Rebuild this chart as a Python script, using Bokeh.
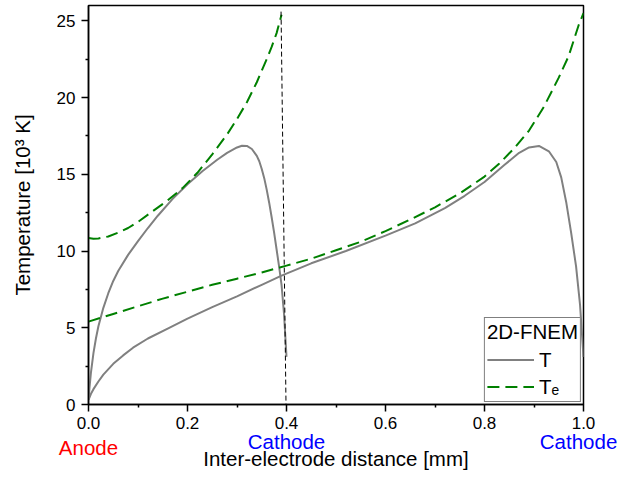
from bokeh.plotting import figure
from bokeh.models import (Range1d, FixedTicker, PrintfTickFormatter, Legend, LegendItem,
                          LinearAxis)
from bokeh.embed import file_html
from bokeh.resources import INLINE

# Data: 0.4 mm gap
x_04_T = [0, 0.002, 0.005, 0.01, 0.015, 0.02, 0.03, 0.04, 0.05, 0.06, 0.08, 0.10, 0.12, 0.14,
          0.17, 0.20, 0.23, 0.26, 0.28, 0.30, 0.31, 0.32, 0.33, 0.34, 0.345, 0.35, 0.355, 0.36,
          0.365, 0.37, 0.375, 0.38, 0.385, 0.39, 0.395, 0.40]
T_04 = [0.3, 1.1, 2.1, 3.35, 4.3, 5.1, 6.3, 7.25, 8.05, 8.7, 9.75, 10.65, 11.5, 12.3,
        13.4, 14.35, 15.2, 15.95, 16.4, 16.75, 16.86, 16.85, 16.65, 16.2, 15.85, 15.35, 14.75, 14.0,
        13.15, 12.2, 11.2, 10.1, 9.0, 7.8, 5.9, 3.1]
x_04_Te = [0, 0.01, 0.02, 0.04, 0.06, 0.08, 0.10, 0.13, 0.16, 0.19, 0.22, 0.25, 0.28, 0.30,
           0.32, 0.34, 0.36, 0.37, 0.38, 0.39]
Te_04 = [10.85, 10.8, 10.82, 10.95, 11.2, 11.5, 11.9, 12.6, 13.3, 14.1, 15.1, 16.3, 17.6, 18.6,
         19.7, 21.0, 22.5, 23.3, 24.2, 25.4]

# Data: 1.0 mm gap
x_10_T = [0, 0.005, 0.01, 0.02, 0.03, 0.05, 0.07, 0.09, 0.12, 0.16, 0.20, 0.25, 0.30, 0.35, 0.39,
          0.45, 0.52, 0.60, 0.66, 0.72, 0.76, 0.80, 0.84, 0.87, 0.89, 0.91, 0.93, 0.945, 0.955,
          0.965, 0.975, 0.985, 0.993, 1.0]
T_10 = [0.3, 0.7, 1.0, 1.5, 1.95, 2.65, 3.2, 3.7, 4.3, 4.95, 5.6, 6.35, 7.05, 7.8, 8.4,
        9.2, 10.0, 11.0, 11.8, 12.8, 13.6, 14.5, 15.6, 16.4, 16.75, 16.85, 16.5, 15.8, 14.8,
        13.2, 11.2, 9.0, 6.5, 3.1]
x_10_Te = [0, 0.05, 0.10, 0.15, 0.20, 0.25, 0.30, 0.35, 0.40, 0.45, 0.50, 0.55, 0.60, 0.65,
           0.70, 0.75, 0.80, 0.83, 0.86, 0.89, 0.92, 0.95, 0.97, 0.99, 1.0]
Te_10 = [5.4, 5.9, 6.4, 6.9, 7.35, 7.8, 8.2, 8.6, 9.05, 9.5, 10.05, 10.6, 11.3, 12.05,
         12.85, 13.75, 14.85, 15.7, 16.7, 17.85, 19.4, 21.3, 22.7, 24.7, 25.5]

# Cathode marker line for the 0.4 mm gap
x_cath = [0.389, 0.399]
y_cath = [25.6, 0]

x_ticks = [0, 0.2, 0.4, 0.6, 0.8, 1.0]
x_minor = [0.1, 0.3, 0.5, 0.7, 0.9]
y_ticks = [0, 5, 10, 15, 20, 25]
y_minor = [2.5, 7.5, 12.5, 17.5, 22.5]

anode_pos = [0.0]
anode_text = ["Anode"]
cathode_pos = [0.4, 0.99]
cathode_text = ["Cathode", "Cathode"]

FONT = "Liberation Sans"
BIG = "20.5px"

p = figure(width=617, height=473, output_backend="svg", toolbar_location=None,
           x_range=Range1d(0, 1), y_range=Range1d(0, 26),
           min_border_left=88, min_border_right=34, min_border_top=5, min_border_bottom=69)
p.background_fill_color = "white"
p.border_fill_color = "white"
p.xgrid.visible = False
p.ygrid.visible = False
p.outline_line_color = "black"
p.outline_line_width = 1.5
p.outline_line_alpha = 1.0

for ax in (p.xaxis[0], p.yaxis[0]):
    ax.axis_line_color = "black"
    ax.axis_line_width = 1.5
    ax.major_tick_line_color = "black"
    ax.major_tick_line_width = 1.5
    ax.minor_tick_line_color = "black"
    ax.minor_tick_line_width = 1.5
    ax.major_tick_out = 7
    ax.major_tick_in = 0
    ax.minor_tick_out = 3
    ax.minor_tick_in = 0
    ax.major_label_text_font = FONT
    ax.major_label_text_font_size = "17px"
    ax.major_label_text_color = "black"
    ax.axis_label_text_font = FONT
    ax.axis_label_text_font_size = BIG
    ax.axis_label_text_font_style = "normal"
    ax.axis_label_text_color = "black"

p.xaxis[0].ticker = FixedTicker(ticks=x_ticks, minor_ticks=x_minor)
p.xaxis[0].formatter = PrintfTickFormatter(format="%.1f")
p.xaxis[0].major_label_standoff = 5
p.yaxis[0].ticker = FixedTicker(ticks=y_ticks, minor_ticks=y_minor)
p.yaxis[0].formatter = PrintfTickFormatter(format="%d")
p.yaxis[0].major_label_standoff = 6
p.yaxis[0].axis_label = "Temperature [10³ K]"
p.yaxis[0].axis_label_standoff = 20


def text_axis(pos, texts, color, standoff):
    a = LinearAxis(ticker=FixedTicker(ticks=pos),
                   major_label_overrides={float(v): t for v, t in zip(pos, texts)})
    a.axis_line_color = None
    a.major_tick_line_color = None
    a.minor_tick_line_color = None
    a.major_tick_out = 0
    a.major_tick_in = 0
    a.minor_tick_out = 0
    a.minor_tick_in = 0
    a.major_label_standoff = standoff
    a.major_label_text_font = FONT
    a.major_label_text_font_size = BIG
    a.major_label_text_color = color
    a.axis_label_text_font = FONT
    a.axis_label_text_font_size = BIG
    a.axis_label_text_font_style = "normal"
    a.axis_label_text_color = "black"
    p.add_layout(a, "below")
    return a


text_axis(cathode_pos, cathode_text, "#0000ff", -2)
a_an = text_axis(anode_pos, anode_text, "#ff0000", -20)
a_an.axis_label = "Inter-electrode distance [mm]"
a_an.axis_label_standoff = -15

r_t04 = p.line(x_04_T, T_04, line_color="#808080", line_width=2)
r_te04 = p.line(x_04_Te, Te_04, line_color="#008000", line_width=2, line_dash="12 6")
p.line(x_10_T, T_10, line_color="#808080", line_width=2)
p.line(x_10_Te, Te_10, line_color="#008000", line_width=2, line_dash="12 6")
p.line(x_cath, y_cath, line_color="black", line_width=1, line_dash="5 3")

legend = Legend(items=[LegendItem(label="T", renderers=[r_t04]),
                       LegendItem(label="Tₑ", renderers=[r_te04])],
                location="bottom_right", title="2D-FNEM")
legend.title_text_font = FONT
legend.title_text_font_size = BIG
legend.title_text_font_style = "normal"
legend.title_text_color = "black"
legend.title_standoff = 3
legend.label_text_font = FONT
legend.label_text_font_size = BIG
legend.label_text_color = "black"
legend.glyph_width = 47
legend.glyph_height = 25
legend.label_height = 25
legend.label_standoff = 5
legend.spacing = 2
legend.padding = 2
legend.margin = 2
legend.border_line_color = "black"
legend.border_line_width = 1
legend.background_fill_alpha = 1.0
p.add_layout(legend)

open("out.html", "w").write(file_html(p, INLINE))
